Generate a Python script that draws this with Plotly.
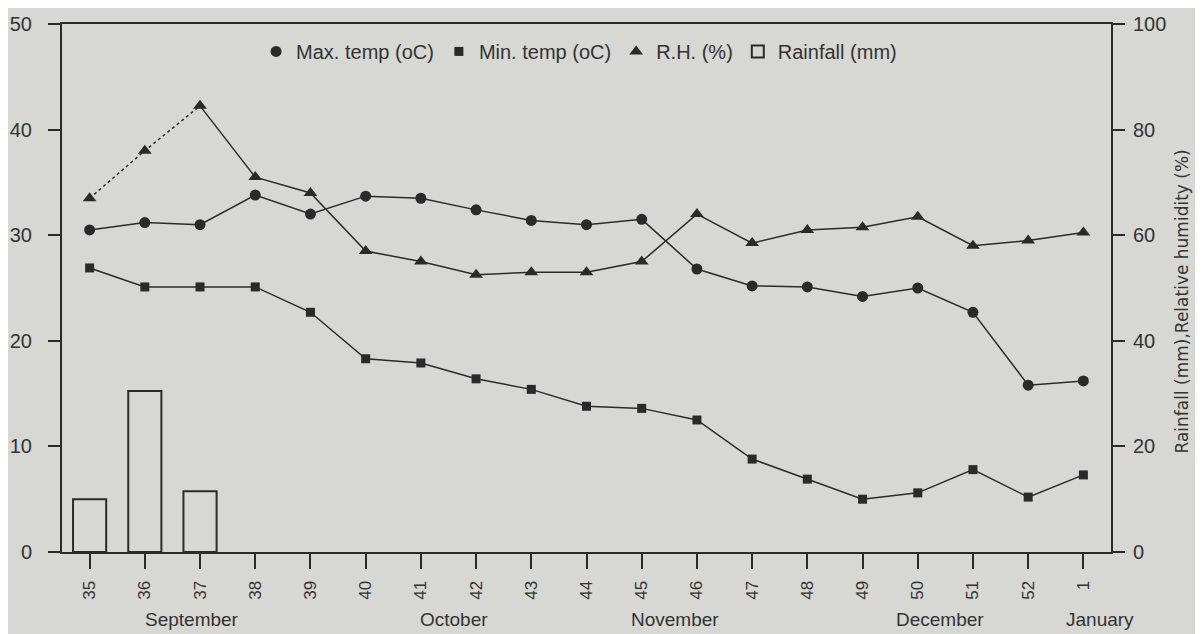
import plotly.graph_objects as go

weeks = ["35", "36", "37", "38", "39", "40", "41", "42", "43", "44", "45", "46",
         "47", "48", "49", "50", "51", "52", "1"]
max_temp = [30.5, 31.2, 31.0, 33.8, 32.0, 33.7, 33.5, 32.4, 31.4, 31.0, 31.5, 26.8,
            25.2, 25.1, 24.2, 25.0, 22.7, 15.8, 16.2]
min_temp = [26.9, 25.1, 25.1, 25.1, 22.7, 18.3, 17.9, 16.4, 15.4, 13.8, 13.6, 12.5,
            8.8, 6.9, 5.0, 5.6, 7.8, 5.2, 7.3]
rh = [67.0, 76.0, 84.5, 71.0, 68.0, 57.0, 55.0, 52.5, 53.0, 53.0, 55.0, 64.0,
      58.5, 61.0, 61.5, 63.5, 58.0, 59.0, 60.5]
rainfall = [10.0, 30.5, 11.5] + [None] * 16
months = ["September", "October", "November", "December", "January"]
month_pos = [1.86, 6.6, 10.6, 15.4, 18.3]

BG = "#d7d7d3"
INK = "#2a2a2a"
FONT = "Liberation Sans, Arial, sans-serif"

fig = go.Figure()
# connecting lines (no legend)
fig.add_trace(go.Scatter(x=weeks, y=max_temp, mode="lines", showlegend=False,
                         line=dict(color=INK, width=1.5), hoverinfo="skip"))
fig.add_trace(go.Scatter(x=weeks, y=min_temp, mode="lines", showlegend=False,
                         line=dict(color=INK, width=1.5), hoverinfo="skip"))
fig.add_trace(go.Scatter(x=weeks[2:], y=rh[2:], mode="lines", yaxis="y2", showlegend=False,
                         line=dict(color=INK, width=1.5), hoverinfo="skip"))
fig.add_trace(go.Scatter(x=weeks[:3], y=rh[:3], mode="lines", yaxis="y2", showlegend=False,
                         line=dict(color=INK, width=1.5, dash="dot"), hoverinfo="skip"))
# markers (legend)
fig.add_trace(go.Scatter(x=weeks, y=max_temp, name="Max. temp (oC)", mode="markers",
                         marker=dict(symbol="circle", size=11, color=INK)))
fig.add_trace(go.Scatter(x=weeks, y=min_temp, name="Min. temp (oC)", mode="markers",
                         marker=dict(symbol="square", size=9, color=INK)))
fig.add_trace(go.Scatter(x=weeks, y=rh, name="R.H. (%)", mode="markers", yaxis="y2",
                         marker=dict(symbol="triangle-up", size=12, color=INK)))
fig.add_trace(go.Bar(x=weeks, y=rainfall, name="Rainfall (mm)", yaxis="y2", width=0.6,
                     marker=dict(color=BG, line=dict(color=INK, width=2))))

for m, p in zip(months, month_pos):
    fig.add_annotation(x=p, y=0, xref="x", yref="paper", yshift=-67, yanchor="middle",
                       text=m, showarrow=False,
                       font=dict(size=19, color="#333", family=FONT))

fig.add_annotation(x=1.068, y=0.475, xref="paper", yref="paper", textangle=-90,
                   text="Rainfall (mm),Relative humidity (%)", showarrow=False,
                   xanchor="center", yanchor="middle",
                   font=dict(size=17, color="#333", family="DejaVu Sans, sans-serif"))

fig.update_layout(
    width=1203, height=634,
    margin=dict(l=54, r=100, t=16, b=90, autoexpand=False),
    paper_bgcolor=BG, plot_bgcolor=BG,
    font=dict(family=FONT, color="#333"),
    showlegend=True,
    legend=dict(orientation="h", x=0.185, y=0.985, xanchor="left", yanchor="top",
                bgcolor="rgba(0,0,0,0)", font=dict(size=20, color="#333"),
                itemwidth=30, tracegroupgap=0),
    bargap=0.4,
    xaxis=dict(type="category", range=[-0.5, 18.5], showline=True, linecolor=INK,
               linewidth=2, mirror=True, ticks="outside", ticklen=15, tickwidth=1.5,
               tickcolor=INK, tickangle=-90, tickfont=dict(size=17, color="#333"),
               ticklabelstandoff=5,
               showgrid=False, zeroline=False, automargin=False),
    yaxis=dict(range=[0, 50], dtick=10, showline=True, linecolor=INK, linewidth=2,
               ticks="outside", ticklen=12, tickwidth=1.5, tickcolor=INK,
               tickfont=dict(size=20, color="#333"), showgrid=False, zeroline=False,
               ticklabelstandoff=12, automargin=False),
    yaxis2=dict(range=[0, 100], dtick=20, overlaying="y", side="right", showline=True,
                linecolor=INK, linewidth=2, ticks="outside", ticklen=12, tickwidth=1.5,
                tickcolor=INK, tickfont=dict(size=20, color="#333"), showgrid=False,
                zeroline=False, ticklabelstandoff=4, automargin=False),
)

fig.write_html("out.html")
